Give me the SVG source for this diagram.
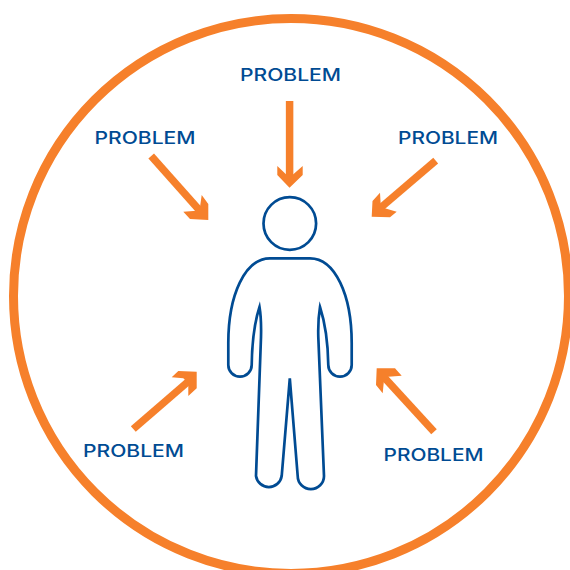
<svg xmlns="http://www.w3.org/2000/svg" width="570" height="570" viewBox="0 0 570 570">
<style>
.lbl{font-family:"Inter","Liberation Sans",sans-serif;font-size:17px;font-weight:500;fill:#004b93;text-anchor:middle}
.shaft{stroke:#f6802b;stroke-width:7.500;fill:none}
.head{fill:#f6802b}
.fig{fill:#fff;stroke:#004b93;stroke-width:2.700;stroke-linejoin:miter;stroke-miterlimit:10}
</style>
<rect width="570" height="570" fill="#fff"/>
<circle id="ring" cx="291" cy="296" r="277.500" fill="none" stroke="#f6802b" stroke-width="9"/>
<g id="person">
<circle class="fig" cx="289.800" cy="223.500" r="26.300"/>
<path class="fig" d="M270 258.300H310C335 258.300 351.700 295 351.700 343V365A11.700 11.700 0 0 1 328.300 365C328 345 325.500 324 320 307C318.500 316 318 326 318.300 337L324 476A13 13 0 0 1 297.700 476L289.800 378.300L281.700 476A13 13 0 0 1 256 476L261 337C261.300 326 261 316 259.500 307C254 324 252 345 251.700 365A11.700 11.700 0 0 1 228.300 365V343C228.300 295 245 258.300 270 258.300Z"/>
</g>
<g id="connectors">
<line class="shaft" x1="289.600" y1="101" x2="289.600" y2="178"/><polygon class="head" points="277.300,166 286,174.300 293.300,174.300 302.700,166 302.700,175 289.500,187.700 277.300,175"/>
<line class="shaft" x1="151.200" y1="156" x2="201" y2="212"/><polygon class="head" points="201.700,195 208.300,204 208.300,220 190,219 183.300,211.700 196.700,210.700 200,207"/>
<line class="shaft" x1="435.700" y1="160.700" x2="378" y2="210"/><polygon class="head" points="380,192.700 372.500,201 371.700,216.700 390,217.300 396.700,211.700 384,208 380.700,204"/>
<line class="shaft" x1="133.300" y1="429" x2="190" y2="380"/><polygon class="head" points="171.700,377.300 178.300,371 196.700,371.700 196.700,388.300 188.300,396 188.300,383.300 183.300,378.300"/>
<line class="shaft" x1="434" y1="431.700" x2="382" y2="375"/><polygon class="head" points="401.700,375.700 395,368.300 376.700,368.300 376,385 382.700,393.300 384,380 388.300,376.700"/>
</g>
<g id="label-top"><text class="lbl" x="290.500" y="81" textLength="101" lengthAdjust="spacingAndGlyphs">PROBLEM</text></g>
<g id="label-top-left"><text class="lbl" x="145" y="144" textLength="101" lengthAdjust="spacingAndGlyphs">PROBLEM</text></g>
<g id="label-top-right"><text class="lbl" x="448" y="144" textLength="100" lengthAdjust="spacingAndGlyphs">PROBLEM</text></g>
<g id="label-bottom-left"><text class="lbl" x="133.500" y="457" textLength="101" lengthAdjust="spacingAndGlyphs">PROBLEM</text></g>
<g id="label-bottom-right"><text class="lbl" x="433.500" y="461" textLength="100" lengthAdjust="spacingAndGlyphs">PROBLEM</text></g>
</svg>
